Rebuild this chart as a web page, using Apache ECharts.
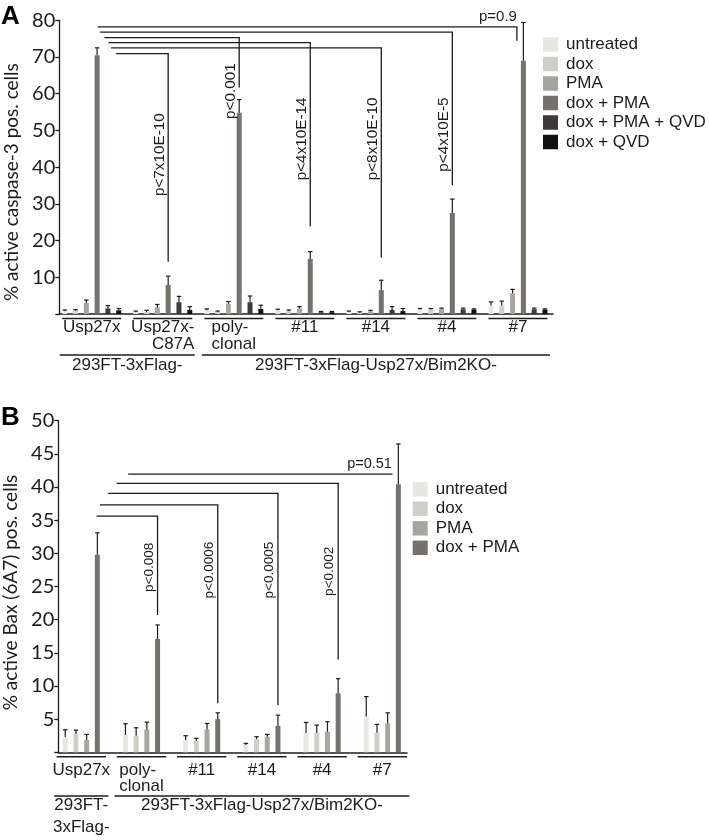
<!DOCTYPE html>
<html><head><meta charset="utf-8">
<script src="https://cdn.jsdelivr.net/npm/echarts@6/dist/echarts.min.js"></script>
<style>html,body{margin:0;padding:0;background:#fff}#c{width:709px;height:840px}</style>
</head><body><div id="c"></div><script>
// ---------------- DATA: panel A ----------------
const conditionsA = ['untreated', 'dox', 'PMA', 'dox + PMA', 'dox + PMA + QVD', 'dox + QVD'];
const categoriesA = ['Usp27x', 'Usp27x-\nC87A', 'poly-\nclonal', '#11', '#14', '#4', '#7'];
const untreatedA    = [0.8, 0.5, 1.0, 1.0, 0.5, 1.2, 2.3];
const untreatedErrA = [0.3, 0.3, 0.4, 0.3, 0.3, 0.3, 1.0];
const doxA          = [0.9, 0.5, 0.6, 0.8, 0.4, 1.2, 2.3];
const doxErrA       = [0.3, 0.5, 0.2, 0.3, 0.2, 0.3, 1.2];
const pmaA          = [3.0, 1.8, 2.8, 1.5, 0.7, 1.3, 5.6];
const pmaErrA       = [0.8, 0.8, 0.6, 0.5, 0.3, 0.3, 1.1];
const doxPmaA       = [70.5, 7.9, 54.8, 15.0, 6.5, 27.5, 69.0];
const doxPmaErrA    = [2.0, 2.4, 3.6, 2.0, 2.7, 3.8, 10.4];
const doxPmaQvdA    = [1.5, 3.2, 3.2, 0.5, 1.1, 1.3, 1.3];
const doxPmaQvdErrA = [0.8, 1.6, 1.7, 0.2, 0.9, 0.3, 0.3];
const doxQvdA       = [1.0, 1.1, 1.4, 0.5, 0.8, 1.2, 1.2];
const doxQvdErrA    = [0.5, 0.9, 1.0, 0.2, 0.7, 0.2, 0.2];
const yNameA = '% active caspase-3 pos. cells';
const yMaxA = 80, yIntervalA = 10;
const cellLineSpansA  = [[0, 1], [2, 6]];
const cellLineLabelsA = ['293FT-3xFlag-', '293FT-3xFlag-Usp27x/Bim2KO-'];
// comparisons: Usp27x (dox + PMA) vs target group (dox + PMA)
const bracketTargetA = [1, 2, 3, 4, 5, 6];
const bracketHeightA = [70.9, 75.3, 73.9, 72.5, 76.8, 78.2];
const bracketDropToA = [14.2, 61.7, 23.8, 15.4, 35.1, 74.4];
const pValueA        = ['p<7x10E-10', 'p<0.001', 'p<4x10E-14', 'p<8x10E-10', 'p<4x10E-5', 'p=0.9'];
const pLabelTopA     = [54.7, 68.3, 59.0, 59.0, 59.0, null];

// ---------------- DATA: panel B ----------------
const conditionsB = ['untreated', 'dox', 'PMA', 'dox + PMA'];
const categoriesB = ['Usp27x', 'poly-\nclonal', '#11', '#14', '#4', '#7'];
const untreatedB    = [2.3, 2.6, 1.85, 1.1, 2.9, 5.4];
const untreatedErrB = [1.1, 1.7, 0.65, 0.25, 1.6, 3.0];
const doxB          = [2.75, 2.5, 1.75, 2.0, 2.9, 2.95];
const doxErrB       = [0.6, 1.2, 0.35, 0.35, 1.2, 1.25];
const pmaB          = [1.85, 3.45, 3.45, 2.35, 3.1, 4.35];
const pmaErrB       = [0.85, 1.1, 0.9, 0.35, 1.5, 1.6];
const doxPmaB       = [29.8, 17.1, 5.0, 4.0, 8.9, 40.4];
const doxPmaErrB    = [3.3, 2.1, 0.95, 1.6, 2.2, 6.1];
const yNameB = '% active Bax (6A7) pos. cells';
const yMaxB = 50, yIntervalB = 5;
const cellLineSpansB  = [[0, 0], [1, 5]];
const cellLineLabelsB = ['293FT-\n3xFlag-', '293FT-3xFlag-Usp27x/Bim2KO-'];
const bracketTargetB = [1, 2, 3, 4, 5];
const bracketHeightB = [35.6, 37.3, 39.05, 40.55, 41.95];
const bracketDropToB = [20.7, 7.4, 7.1, 14.0, 41.95];
const pValueB        = ['p<0.008', 'p<0.0006', 'p<0.0005', 'p<0.002', 'p=0.51'];
const pLabelTopB     = [31.6, 31.75, 31.75, 31.0, null];

// ---------------- STYLE / LAYOUT ----------------
const COLORS = ['#e8e8e3', '#cfcfc8', '#a6a59f', '#75726e', '#3d393a', '#111111'];
const INK = '#1c1c1c';
const ARIAL = "'Liberation Sans', Arial, sans-serif";
const CAL = "Lato, 'Liberation Sans', sans-serif";

const panels = [
  {
    cats: categoriesA, conds: conditionsA,
    values: [untreatedA, doxA, pmaA, doxPmaA, doxPmaQvdA, doxQvdA],
    errors: [untreatedErrA, doxErrA, pmaErrA, doxPmaErrA, doxPmaQvdErrA, doxQvdErrA],
    yMax: yMaxA, yInterval: yIntervalA, yName: yNameA,
    spans: cellLineSpansA, spanLabels: cellLineLabelsA,
    bTarget: bracketTargetA, bHeight: bracketHeightA, bDrop: bracketDropToA, pText: pValueA, pTop: pLabelTopA,
    L: {
      grid: {left: 56.2, top: 20.3, width: 497.3, height: 293.7},
      axisX: 59.3, axisEnd: 553,
      barWidth: 5, barGap: 1.16,
      labelMargin: 4.5, labelLineHeight: 17.5, catAlign: {1: 'r', 2: 'l'},
      underDy: 4.4, underHalf: 0.415,
      spanDy: 41, spanTextDy: 40.6, spanHalf: 0.45,
      bracketStartPx: [19, 7.3, 11.3, 14, 3, 0.6],
      pFontV: 15.3, pFontH: 15, pDx: -8.5,
      nameGap: 32, namePad: [0, 30, 0, 0],
      legend: {left: 543, top: 36}
    }
  },
  {
    cats: categoriesB, conds: conditionsB,
    values: [untreatedB, doxB, pmaB, doxPmaB],
    errors: [untreatedErrB, doxErrB, pmaErrB, doxPmaErrB],
    yMax: yMaxB, yInterval: yIntervalB, yName: yNameB,
    spans: cellLineSpansB, spanLabels: cellLineLabelsB,
    bTarget: bracketTargetB, bHeight: bracketHeightB, bDrop: bracketDropToB, pText: pValueB, pTop: pLabelTopB,
    L: {
      grid: {left: 51.2, top: 420.7, width: 361.2, height: 331.6},
      axisX: 58.3, axisEnd: 407,
      barWidth: 5, barGap: 1.14,
      labelMargin: 9.5, labelLineHeight: 16.5, catAlign: {1: 'l'},
      underDy: 4.4, underHalf: 0.41,
      spanDy: 43.7, spanTextDy: 42.1, spanHalf: 0.45,
      bracketStartPx: [-0.8, 2.5, 10.8, 19.2, 30.8],
      pFontV: 13.5, pFontH: 14.5, pDx: -8.5,
      nameGap: 31, namePad: [0, 12, 0, 0],
      legend: {left: 412.7, top: 480.8}
    }
  }
];

const lineStyle = {stroke: INK, lineWidth: 1.3};

const option = {
  animation: false,
  backgroundColor: '#fff',
  title: [
    {text: 'A', left: 1, top: 4, padding: 0, textStyle: {fontSize: 26, fontWeight: 'bold', fontFamily: ARIAL, color: '#000'}},
    {text: 'B', left: 1, top: 405, padding: 0, textStyle: {fontSize: 26, fontWeight: 'bold', fontFamily: ARIAL, color: '#000'}}
  ],
  legend: [], grid: [], xAxis: [], yAxis: [], series: []
};

panels.forEach((P, pi) => {
  const L = P.L;
  const gi = pi * 2;
  const n = P.conds.length;
  const slot = L.barWidth * (1 + L.barGap);
  const total = n * L.barWidth + (n - 1) * L.barGap * L.barWidth;
  const barX = (api, cat, k) => api.coord([cat, 0])[0] - total / 2 + k * slot + L.barWidth / 2;

  option.grid.push({left: L.grid.left, top: L.grid.top, width: L.grid.width, height: L.grid.height, containLabel: false, outerBoundsMode: 'none'});
  option.grid.push({left: L.axisX, top: L.grid.top, width: L.axisEnd - L.axisX, height: L.grid.height, containLabel: false, outerBoundsMode: 'none'});

  const richBase = {fontSize: 17, fontFamily: ARIAL, color: INK, lineHeight: L.labelLineHeight};
  option.xAxis.push({
    gridIndex: gi, type: 'category', data: P.cats,
    axisLine: {show: false}, axisTick: {show: false}, splitLine: {show: false},
    axisLabel: {
      interval: 0, margin: L.labelMargin, color: INK, fontFamily: ARIAL, fontSize: 17, lineHeight: L.labelLineHeight,
      formatter: (v, i) => {
        const a = L.catAlign[i];
        return a ? v.split('\n').map(s => '{' + a + '|' + s + '}').join('\n') : v;
      },
      rich: {r: Object.assign({align: 'right'}, richBase), l: Object.assign({align: 'left'}, richBase)}
    }
  });
  option.xAxis.push({
    gridIndex: gi + 1, type: 'value', min: 0, max: 1,
    axisLine: {show: true, onZero: false, lineStyle: {color: INK, width: 1.5}},
    axisTick: {show: false}, axisLabel: {show: false}, splitLine: {show: false}
  });
  option.yAxis.push({
    gridIndex: gi, type: 'value', min: 0, max: P.yMax, interval: P.yInterval,
    offset: L.grid.left - L.axisX,
    axisLine: {show: true, lineStyle: {color: INK, width: 1.3}},
    axisTick: {show: true, length: 4, lineStyle: {color: INK, width: 1.3}},
    splitLine: {show: false},
    axisLabel: {margin: 4, color: INK, fontFamily: CAL, fontSize: 20, formatter: v => (v === 0 ? '' : String(v))},
    name: P.yName, nameLocation: 'middle', nameRotate: 90, nameGap: L.nameGap,
    nameTextStyle: {fontFamily: CAL, fontSize: 19, color: INK, padding: L.namePad}
  });
  option.yAxis.push({gridIndex: gi + 1, type: 'value', min: 0, max: 1, show: false});

  option.legend.push({
    data: P.conds, left: L.legend.left, top: L.legend.top, orient: 'vertical', padding: 0,
    icon: 'rect', itemWidth: 15, itemHeight: 14.5, itemGap: 2.5, selectedMode: false,
    textStyle: {fontFamily: ARIAL, fontSize: 17, color: INK, lineHeight: 17, padding: [0, 0, 0, 3]}
  });

  // bars
  P.conds.forEach((name, k) => {
    option.series.push({
      type: 'bar', name, xAxisIndex: gi, yAxisIndex: gi, data: P.values[k],
      barWidth: L.barWidth, barGap: (L.barGap * 100) + '%',
      itemStyle: {color: COLORS[k]}, silent: true, z: 2
    });
  });

  // error bars
  const errData = [];
  P.conds.forEach((name, k) => P.cats.forEach((c, i) => errData.push([i, P.values[k][i], k, P.errors[k][i]])));
  option.series.push({
    type: 'custom', xAxisIndex: gi, yAxisIndex: gi, data: errData, encode: {x: 0, y: 1}, silent: true, z: 5, clip: false,
    renderItem: (params, api) => {
      const i = api.value(0), v = api.value(1), k = api.value(2), e = api.value(3);
      const x = barX(api, i, k);
      const y0 = api.coord([i, v])[1], y1 = api.coord([i, v + e])[1];
      return {type: 'group', children: [
        {type: 'line', shape: {x1: x, y1: y0, x2: x, y2: y1}, style: {stroke: INK, lineWidth: 1.2}},
        {type: 'line', shape: {x1: x - 2.2, y1: y1, x2: x + 2.2, y2: y1}, style: {stroke: INK, lineWidth: 1.2}}
      ]};
    }
  });

  // group underlines
  option.series.push({
    type: 'custom', xAxisIndex: gi, yAxisIndex: gi, data: P.cats.map((c, i) => [i, 0]), silent: true, clip: false, z: 5,
    renderItem: (params, api) => {
      const p = api.coord([api.value(0), 0]);
      const bw = api.size([1, 0])[0];
      const y = p[1] + L.underDy;
      return {type: 'line', shape: {x1: p[0] - L.underHalf * bw, y1: y, x2: p[0] + L.underHalf * bw, y2: y}, style: {stroke: INK, lineWidth: 1.5}};
    }
  });

  // cell line spans
  option.series.push({
    type: 'custom', xAxisIndex: gi, yAxisIndex: gi, data: P.spans.map(s => [s[0], 0, s[1]]), silent: true, clip: false, z: 5,
    renderItem: (params, api) => {
      const i0 = api.value(0), i1 = api.value(2);
      const bw = api.size([1, 0])[0];
      const pa = api.coord([i0, 0]), pb = api.coord([i1, 0]);
      const xa = pa[0] - L.spanHalf * bw, xb = pb[0] + L.spanHalf * bw;
      const y = pa[1] + L.spanDy;
      return {type: 'group', children: [
        {type: 'line', shape: {x1: xa, y1: y, x2: xb, y2: y}, style: {stroke: INK, lineWidth: 1.5}},
        {type: 'text', x: (xa + xb) / 2, y: pa[1] + L.spanTextDy, style: {
          text: P.spanLabels[params.dataIndex], align: 'center', verticalAlign: 'top',
          fontFamily: ARIAL, fontSize: 17, lineHeight: 21.7, fill: INK}}
      ]};
    }
  });

  // comparison brackets
  option.series.push({
    type: 'custom', xAxisIndex: gi, yAxisIndex: gi, data: P.bTarget.map((t, j) => [t, P.bHeight[j]]), silent: true, clip: false, z: 4,
    renderItem: (params, api) => {
      const j = params.dataIndex;
      const t = P.bTarget[j], h = P.bHeight[j];
      const xs = barX(api, 0, 3) + L.bracketStartPx[j];
      let xe = barX(api, t, 3);
      const yH = api.coord([t, h])[1];
      const shifted = P.values[3][t] + P.errors[3][t] > h;
      if (shifted) xe -= 0.6 * slot;
      const yD = api.coord([t, P.bDrop[j]])[1];
      const ch = [{type: 'line', shape: {x1: xs, y1: yH, x2: xe + 0.6, y2: yH}, style: lineStyle}];
      if (yD - yH > 0.5) ch.push({type: 'line', shape: {x1: xe, y1: yH, x2: xe, y2: yD}, style: lineStyle});
      if (shifted || P.pTop[j] == null) {
        ch.push({type: 'text', x: xe, y: yH - 2.5, style: {text: P.pText[j], align: 'right', verticalAlign: 'bottom',
          fontFamily: ARIAL, fontSize: L.pFontH, fill: INK}});
      } else {
        const yT = api.coord([t, P.pTop[j]])[1];
        ch.push({type: 'text', x: xe + L.pDx, y: yT, rotation: Math.PI / 2, style: {text: P.pText[j], align: 'right', verticalAlign: 'middle',
          fontFamily: ARIAL, fontSize: L.pFontV, fill: INK}});
      }
      return {type: 'group', children: ch};
    }
  });
});

const chart = echarts.init(document.getElementById('c'), null, {renderer: 'canvas'});
chart.setOption(option);
</script></body></html>
